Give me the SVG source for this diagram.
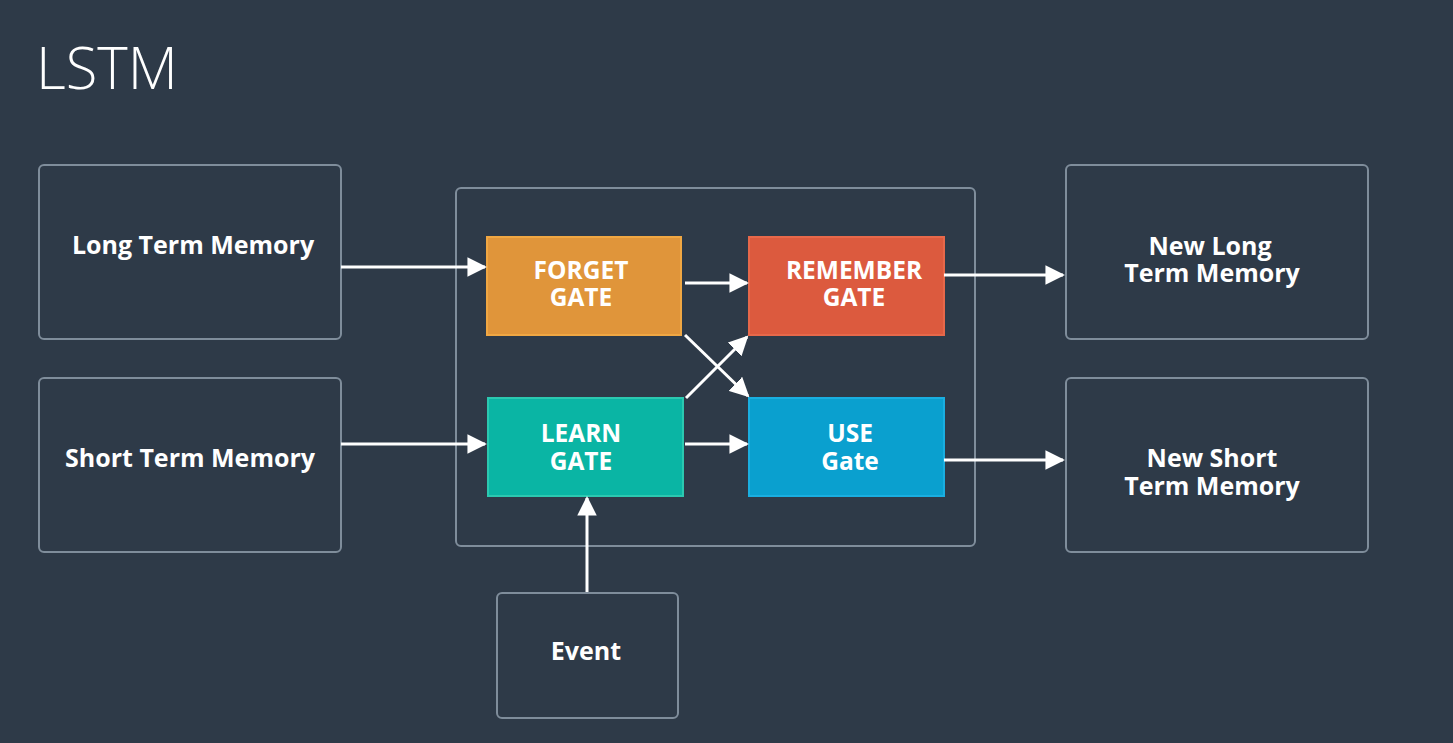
<svg xmlns="http://www.w3.org/2000/svg" width="1453" height="743" viewBox="0 0 1453 743">
<defs>
<style>
.bg{fill:#2e3a48}
.box{fill:none;stroke:#7f8d9b;stroke-width:2}
.lbl{font-family:"Open Sans","Liberation Sans",sans-serif;font-weight:bold;font-size:25px;fill:#ffffff;text-anchor:middle}
.glbl{font-family:"Open Sans","Liberation Sans",sans-serif;font-weight:bold;font-size:24.5px;fill:#ffffff;text-anchor:middle}
.conn{stroke:#ffffff;stroke-width:3;fill:none;marker-end:url(#ah)}
</style>
<marker id="ah" viewBox="0 0 10 10" refX="9" refY="5" markerWidth="6.5" markerHeight="6.5" markerUnits="strokeWidth" orient="auto">
<path d="M0,0 L10,5 L0,10 z" fill="#ffffff"/>
</marker>
</defs>
<rect class="bg" x="0" y="0" width="1453" height="743"/>
<text x="36" y="89" font-family="'Open Sans','Liberation Sans',sans-serif" font-weight="300" font-size="58" fill="#ffffff">LSTM</text>

<g id="container"><rect class="box" x="456" y="188" width="519" height="358" rx="5"/></g>

<g id="ltm"><rect class="box" x="39" y="165" width="302" height="174" rx="5"/><text class="lbl" x="193" y="254">Long Term Memory</text></g>
<g id="stm"><rect class="box" x="39" y="378" width="302" height="174" rx="5"/><text class="lbl" x="190" y="467">Short Term Memory</text></g>
<g id="nltm"><rect class="box" x="1066" y="165" width="302" height="174" rx="5"/><text class="lbl" x="1210" y="255">New Long</text><text class="lbl" x="1212" y="282">Term Memory</text></g>
<g id="nstm"><rect class="box" x="1066" y="378" width="302" height="174" rx="5"/><text class="lbl" x="1212" y="467">New Short</text><text class="lbl" x="1212" y="495">Term Memory</text></g>
<g id="event"><rect class="box" x="497" y="593" width="181" height="125" rx="5"/><text class="lbl" x="586" y="660">Event</text></g>

<g id="forget"><rect x="487" y="237" width="194" height="98" fill="#e0953a" stroke="#f0a743" stroke-width="2"/><text class="glbl" x="581" y="279">FORGET</text><text class="glbl" x="581" y="306">GATE</text></g>
<g id="remember"><rect x="749" y="237" width="195" height="98" fill="#dc5a3e" stroke="#e7684a" stroke-width="2"/><text class="glbl" x="854" y="279">REMEMBER</text><text class="glbl" x="854" y="306">GATE</text></g>
<g id="learn"><rect x="488" y="398" width="195" height="98" fill="#0ab5a4" stroke="#2cc8b0" stroke-width="2"/><text class="glbl" x="581" y="442">LEARN</text><text class="glbl" x="581" y="470">GATE</text></g>
<g id="use"><rect x="749" y="398" width="195" height="98" fill="#0aa0cf" stroke="#1aaee0" stroke-width="2"/><text class="glbl" x="850" y="442">USE</text><text class="glbl" x="850" y="470">Gate</text></g>

<g id="connectors">
<line class="conn" x1="341" y1="267" x2="485" y2="267"/>
<line class="conn" x1="341" y1="444" x2="485" y2="444"/>
<line class="conn" x1="685" y1="283" x2="747" y2="283"/>
<line class="conn" x1="685" y1="444" x2="747" y2="444"/>
<line class="conn" x1="944" y1="275" x2="1063" y2="275"/>
<line class="conn" x1="944" y1="460" x2="1063" y2="460"/>
<line class="conn" x1="587" y1="592" x2="587" y2="498"/>
<line class="conn" x1="685" y1="335" x2="748" y2="396"/>
<line class="conn" x1="686" y1="398" x2="747" y2="337"/>
</g>
</svg>
